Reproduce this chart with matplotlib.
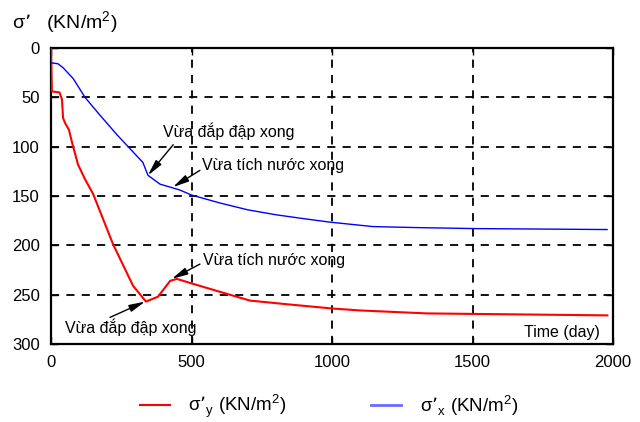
import matplotlib
matplotlib.use('Agg')
import matplotlib.pyplot as plt
from matplotlib.lines import Line2D

plt.rcParams['font.family'] = ['Liberation Sans', 'DejaVu Sans']

# σ'y (đỏ)
t_y = [0, 3, 30, 39, 43, 50, 64, 75, 96, 121, 150, 221, 292, 338, 381, 424, 448,
       505, 600, 708, 850, 1000, 1100, 1338, 1500, 1980]
sig_y = [0, 44, 45, 52, 71, 76, 83, 96, 118, 133, 148, 199, 241, 257, 252, 236, 234,
         239, 247, 256, 260, 264, 266, 269, 269.5, 271]

# σ'x (xanh)
t_x = [0, 25, 43, 79, 121, 174, 235, 281, 327, 345, 388, 424, 459, 500, 600, 700,
       800, 900, 993, 1146, 1300, 1502, 1979]
sig_x = [15, 16, 20, 31, 50, 68, 88, 102, 116, 129, 138, 141, 144, 149, 157, 164,
         169, 173, 176.5, 181, 182, 183, 184]

xticks = [0, 500, 1000, 1500, 2000]
yticks = [0, 50, 100, 150, 200, 250, 300]

fig = plt.figure(figsize=(6.4, 4.22), dpi=100)
ax = fig.add_axes([51 / 640, 1 - 344 / 422, 562 / 640, 296 / 422])

# lưới nét đứt
for xv in xticks[1:-1]:
    ax.axvline(xv, color='black', lw=1.3, dashes=(4.5, 4), zorder=1)
for yv in yticks[1:-1]:
    ax.axhline(yv, color='black', lw=1.3, dashes=(4.5, 4), zorder=1)

ax.plot(t_y, sig_y, color='red', lw=1.5, zorder=3)
ax.plot(t_x, sig_x, color='blue', lw=1.0, zorder=3)

ax.set_xlim(0, 2000)
ax.set_ylim(300, 0)
ax.set_xticks(xticks)
ax.set_yticks(yticks)
ax.tick_params(direction='in', length=5, width=1, top=True, right=True,
               labelsize=12, pad=8)
for s in ax.spines.values():
    s.set_linewidth(1.6)

# chú thích
fs = 11.5
arrow = dict(arrowstyle='-|>,head_length=0.8,head_width=0.18', color='black',
             lw=1, shrinkA=0, shrinkB=0, mutation_scale=12)
ax.text(399, 90.6, 'Vừa đắp đập xong', fontsize=fs, va='baseline')
ax.annotate('', xy=(345, 129), xytext=(435, 98), arrowprops=arrow)
ax.text(537, 124, 'Vừa tích nước xong', fontsize=fs, va='baseline')
ax.annotate('', xy=(434, 141), xytext=(530, 124), arrowprops=arrow)
ax.text(541, 220, 'Vừa tích nước xong', fontsize=fs, va='baseline')
ax.annotate('', xy=(430, 234), xytext=(530, 219), arrowprops=arrow)
ax.text(50, 289, 'Vừa đắp đập xong', fontsize=fs, va='baseline')
ax.annotate('', xy=(335, 257), xytext=(210, 273), arrowprops=arrow)
ax.text(1954, 293, 'Time (day)', fontsize=fs, va='baseline', ha='right')

fig.text(12 / 640, 1 - 29 / 422, 'σ’   (KN/m$^\\mathregular{2}$)', fontsize=14,
         va='baseline')

handles = [Line2D([], [], color='red', lw=1.5),
           Line2D([], [], color='#6a6aff', lw=2)]
labels = ['σ’$_\\mathregular{y}$ (KN/m$^\\mathregular{2}$)',
          'σ’$_\\mathregular{x}$ (KN/m$^\\mathregular{2}$)']
fig.legend(handles, labels, loc='center', bbox_to_anchor=(0.514, 0.037), ncol=2,
           frameon=False, fontsize=13.5, handlelength=1.6, handletextpad=1.0,
           columnspacing=4.5)

fig.savefig('out.png', dpi=100)
